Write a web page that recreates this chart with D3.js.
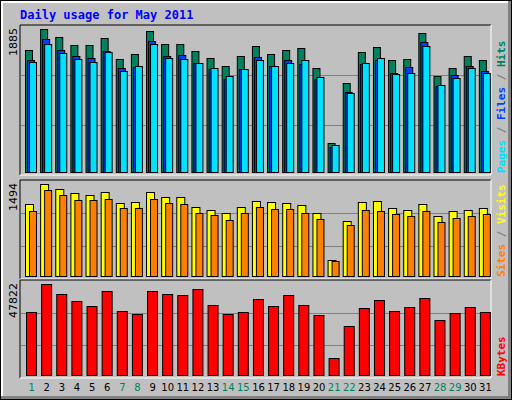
<!DOCTYPE html>
<html><head><meta charset="utf-8">
<script src="https://cdn.jsdelivr.net/npm/d3@7"></script>
<style>body{margin:0;background:#fff}</style>
</head><body><svg id="chart" width="512" height="400"></svg>
<script>
var days = d3.range(1, 32);
var weekends = [1, 7, 8, 14, 15, 21, 22, 28, 29];
var hits = [1608,1885,1779,1674,1674,1766,1489,1555,1858,1687,1687,1595,1503,1397,1529,1661,1555,1608,1634,1371,382,1173,1582,1648,1476,1489,1832,1265,1371,1529,1476];
var files = [1476,1753,1608,1529,1503,1595,1371,1384,1727,1529,1542,1437,1358,1226,1358,1516,1397,1476,1423,1226,330,1054,1423,1476,1305,1384,1713,1133,1278,1397,1331];
var pages = [1450,1687,1568,1489,1450,1582,1331,1397,1687,1503,1489,1437,1371,1265,1358,1476,1397,1437,1476,1252,356,1041,1437,1503,1292,1305,1661,1147,1239,1371,1305];
var sites = [1169,1494,1413,1348,1315,1364,1185,1202,1364,1283,1283,1120,1072,1023,1120,1218,1202,1185,1153,1023,260,893,1202,1218,1104,1072,1169,974,1056,1072,1104];
var visits = [1056,1397,1315,1234,1234,1250,1104,1104,1250,1185,1169,1023,991,909,1023,1120,1088,1088,1023,926,244,828,1072,1056,1007,974,1056,877,942,974,1007];
var kbytes = [33110,47822,42570,38890,36260,44150,33640,32060,44150,42570,42050,45200,36790,32060,33110,39940,36260,42050,36790,31530,8935,25750,35210,39420,33640,35740,40470,28910,32590,35740,33110];

var svg = d3.select("#chart");
var font = "'DejaVu Sans Mono', monospace";

// background and outer frame
svg.append("rect").attr("x", 0).attr("y", 0).attr("width", 512).attr("height", 400).attr("fill", "#000");
svg.append("rect").attr("x", 1).attr("y", 1).attr("width", 510).attr("height", 398).attr("fill", "#808080");
svg.append("rect").attr("x", 1).attr("y", 1).attr("width", 507).attr("height", 395).attr("fill", "#fff");
svg.append("rect").attr("x", 3).attr("y", 3).attr("width", 505).attr("height", 393).attr("fill", "#c0c0c0");

svg.append("text").attr("x", 20).attr("y", 19).text("Daily usage for May 2011")
  .attr("font-family", font).attr("font-weight", "bold").attr("font-size", "12px").attr("fill", "#0000ff");

var x = d3.scaleBand().domain(days).range([23, 492]).padding(0);

function panel(top, bottom, max, series, label, titles) {
  // panel frame with inset look
  svg.append("rect").attr("x", 20).attr("y", top).attr("width", 471).attr("height", bottom - top)
    .attr("fill", "#c0c0c0").attr("stroke", "none");
  svg.append("path").attr("d", "M20," + bottom + "V" + top + "H491").attr("stroke", "#000").attr("fill", "none");
  svg.append("path").attr("d", "M20," + bottom + "H491V" + top).attr("stroke", "#fff").attr("fill", "none");
  var h = bottom - top;
  [1, 2].forEach(function(k) {
    var gy = Math.round(top + h * k / 3) + 0.5;
    svg.append("line").attr("x1", 21).attr("x2", 490).attr("y1", gy).attr("y2", gy).attr("stroke", "#808080");
  });
  var y = d3.scaleLinear().domain([0, max]).range([bottom - 3, top + 4]);
  series.forEach(function(s) {
    svg.append("g").selectAll("rect").data(s.values).enter().append("rect")
      .attr("x", function(d, i) { return x(days[i]) + s.off + 0.5; })
      .attr("y", function(d) { return Math.round(y(d)) + 0.5; })
      .attr("width", s.w)
      .attr("height", function(d) { return y(0) - Math.round(y(d)); })
      .attr("fill", s.color).attr("stroke", "#000");
  });
  svg.append("text").attr("transform", "translate(17," + (top + 3) + ") rotate(-90)")
    .attr("text-anchor", "end").attr("font-family", "'DejaVu Sans', sans-serif").attr("font-size", "11px")
    .text(label);
  var t = svg.append("text").attr("transform", "translate(505," + (bottom - 2) + ") rotate(-90)")
    .attr("font-family", font).attr("font-weight", "bold").attr("font-size", "11px");
  titles.forEach(function(p, i) {
    if (i > 0) t.append("tspan").attr("fill", "#808080").text(" / ");
    t.append("tspan").attr("fill", p[1]).text(p[0]);
  });
}

panel(25, 175, 1885, [
  {values: hits, color: "#00805c", off: 2, w: 7},
  {values: files, color: "#0040ff", off: 4, w: 7},
  {values: pages, color: "#00e0ff", off: 6, w: 7}
], "1885", [["Pages", "#00e0ff"], ["Files", "#0040ff"], ["Hits", "#00805c"]]);

panel(180, 279, 1494, [
  {values: sites, color: "#ffff00", off: 2, w: 8},
  {values: visits, color: "#ff8000", off: 6, w: 7}
], "1494", [["Sites", "#ff8000"], ["Visits", "#ffff00"]]);

panel(280, 378, 47822, [
  {values: kbytes, color: "#ff0000", off: 3, w: 10}
], "47822", [["KBytes", "#ff0000"]]);

svg.append("g").selectAll("text").data(days).enter().append("text")
  .attr("x", function(d) { return x(d) + x.bandwidth() / 2 + 1; })
  .attr("y", 391).attr("text-anchor", "middle")
  .attr("font-family", "'DejaVu Sans', sans-serif").attr("font-size", "10px")
  .attr("fill", function(d) { return weekends.indexOf(d) >= 0 ? "#00805c" : "#000"; })
  .text(function(d) { return d; });
</script>
</body></html>
